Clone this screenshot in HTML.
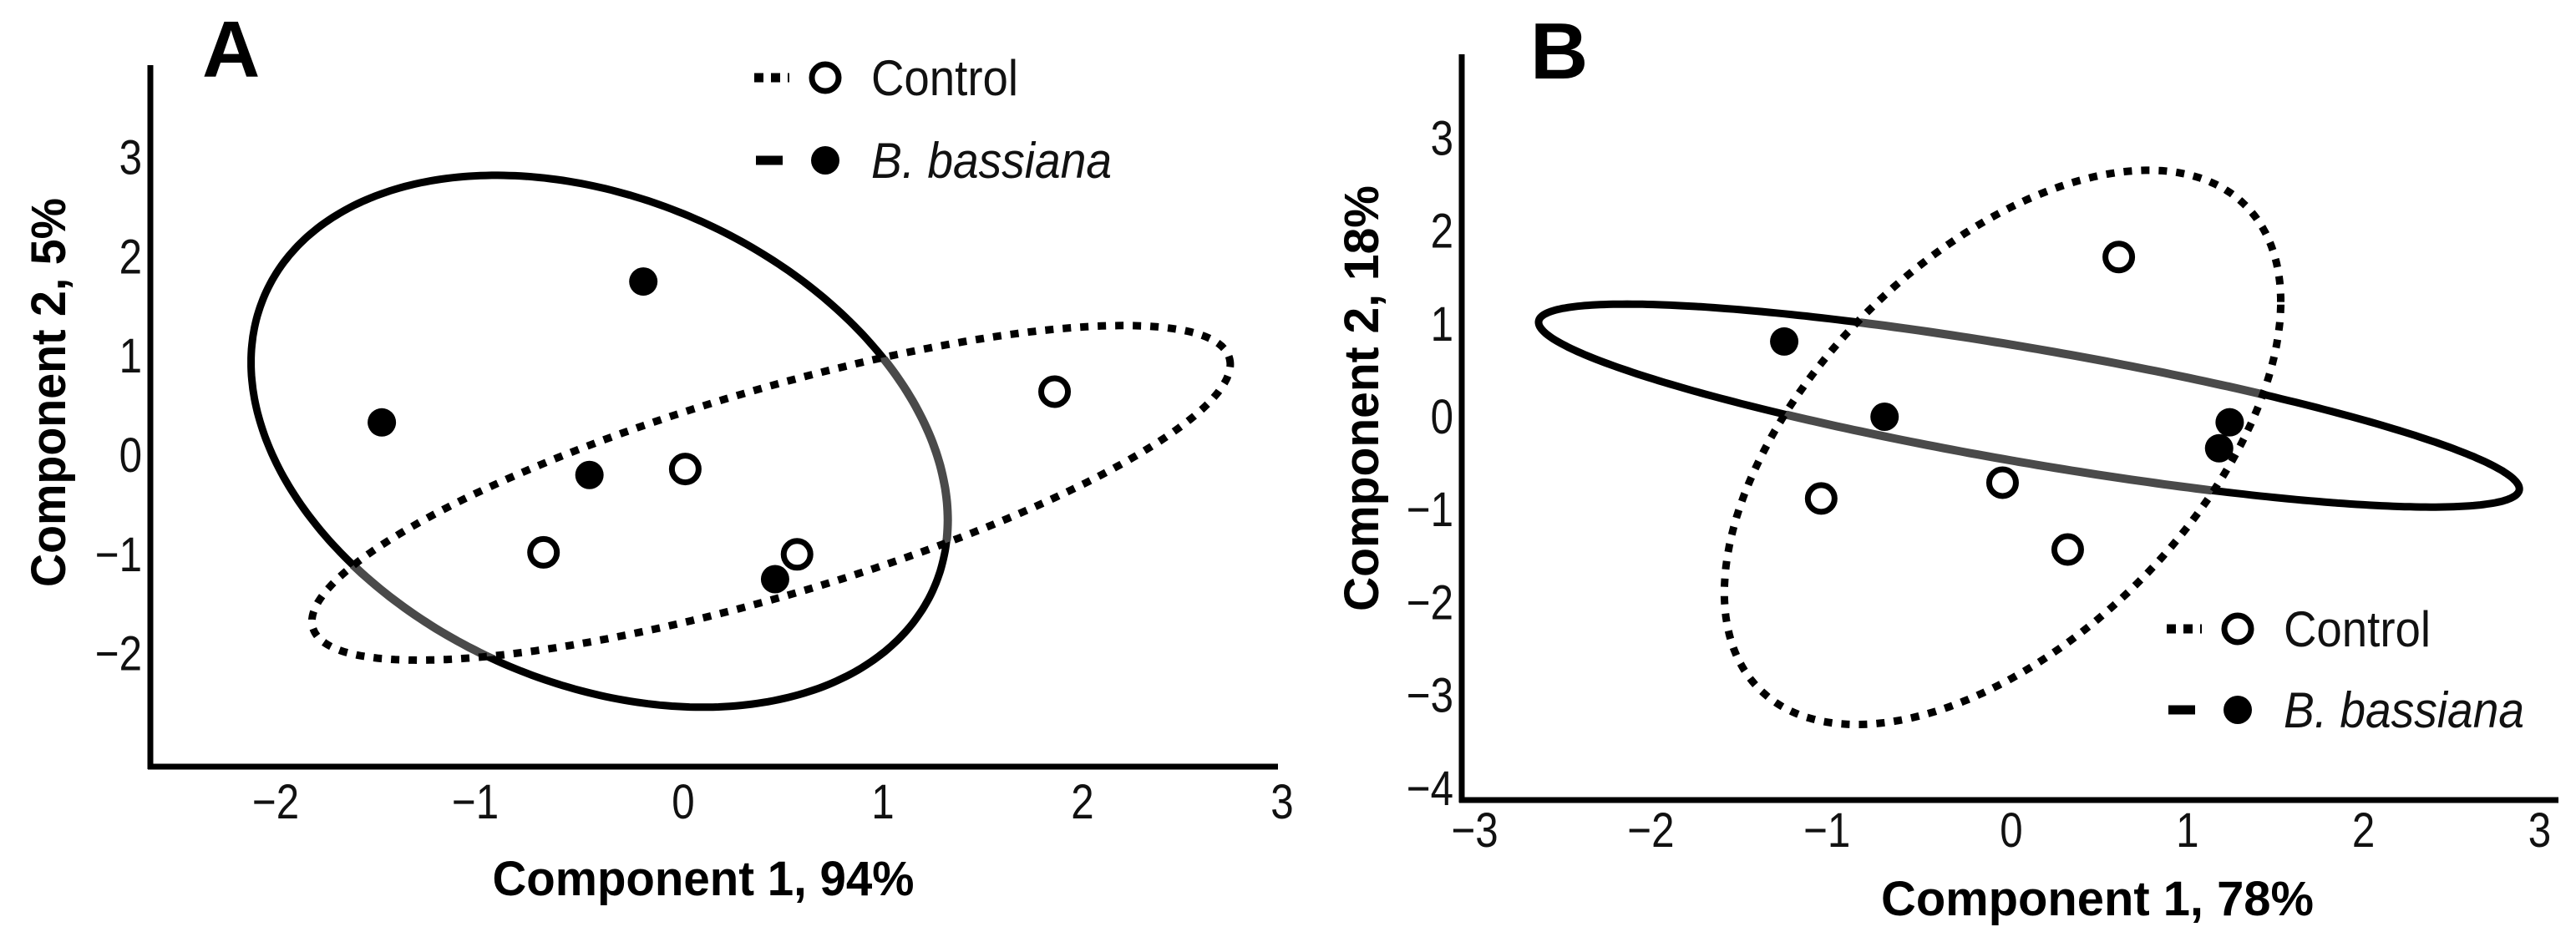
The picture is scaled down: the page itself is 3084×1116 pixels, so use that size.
<!DOCTYPE html>
<html><head><meta charset="utf-8"><style>
html,body{margin:0;padding:0;background:#fff;}
svg{display:block;font-family:"Liberation Sans",Arial,sans-serif;}
</style></head><body>
<svg id="fig" width="3084" height="1116" viewBox="0 0 3084 1116" xmlns="http://www.w3.org/2000/svg">
<defs>
<clipPath id="clipA"><path id="clipApath" d=""/></clipPath>
<clipPath id="clipB"><path id="clipBpath" d=""/></clipPath>
</defs>
<g id="panelA"></g>
<g id="panelB"></g>
</svg>
<script>
// ---------- Panel A data ----------
const aXTicks = [-2, -1, 0, 1, 2, 3];
const aYTicks = [3, 2, 1, 0, -1, -2];
const aControlX = [-0.70, 0.01, 0.57, 1.86];
const aControlY = [-0.98, -0.14, -1.00, 0.64];
const aBassX = [-1.51, -0.20, -0.47, 0.46];
const aBassY = [0.33, 1.75, -0.20, -1.25];
// ellipse: center x, center y, half-width, y offset at rightmost point, conjugate y
const aBassEllipse = [-0.42, 0.14, 1.745, -0.795, 2.56];
const aCtrlEllipse = [0.44, -0.38, 2.30, 1.295, 1.08];

// ---------- Panel B data ----------
const bXTicks = [-3, -2, -1, 0, 1, 2, 3];
const bYTicks = [3, 2, 1, 0, -1, -2, -3, -4];
const bControlX = [0.61, -1.08, -0.05, 0.32];
const bControlY = [1.72, -0.88, -0.71, -1.43];
const bBassX = [-1.29, -0.72, 1.24, 1.18];
const bBassY = [0.81, 0.00, -0.06, -0.34];
const bBassEllipse = [0.10, 0.12, 2.785, -0.897, 0.624];
const bCtrlEllipse = [-0.05, -0.33, 1.58, 1.566, 2.54];

const NS = "http://www.w3.org/2000/svg";
function mk(tag, attrs, parent, txt){
  const e = document.createElementNS(NS, tag);
  for (const k in attrs) e.setAttribute(k, attrs[k]);
  if (txt !== undefined) e.textContent = txt;
  parent.appendChild(e);
  return e;
}
function fmt(v){ return v < 0 ? "\u2212" + Math.abs(v) : String(v); }
function ellPath(E, sx, sy){
  let d = "";
  for (let i = 0; i <= 360; i++){
    const t = i * Math.PI / 180;
    const x = E[0] + E[2] * Math.cos(t);
    const y = E[1] + E[3] * Math.cos(t) + E[4] * Math.sin(t);
    d += (i ? "L" : "M") + sx(x).toFixed(1) + "," + sy(y).toFixed(1);
  }
  return d + "Z";
}

function drawPanel(cfg){
  const g = cfg.g;
  const sx = v => cfg.x0 + v * cfg.xu;
  const sy = v => cfg.y0 - v * cfg.yu;
  const ya = mk("line", {x1: cfg.axX, y1: cfg.axTop, x2: cfg.axX, y2: cfg.axY + 3, stroke: "#000", "stroke-width": 7}, g);
  
  
  const xa = mk("line", {x1: cfg.axX - 3, y1: cfg.axY, x2: cfg.axRight, y2: cfg.axY, stroke: "#000", "stroke-width": 7}, g);
  
  
  cfg.xTicks.forEach(v => {
    const t = mk("text", {x: 0, y: 0, "font-size": 58, "text-anchor": "middle", fill: "#111",
      transform: "translate(" + (sx(v) - (v < 0 ? 10 : 0)) + "," + cfg.xLabY + ") scale(0.85,1)"}, g, fmt(v));
    
    
  });
  cfg.yTicks.forEach(v => {
    const t = mk("text", {x: 0, y: 0, "font-size": 58, "text-anchor": "end", fill: "#111",
      transform: "translate(" + cfg.yLabX + "," + (sy(v) + 20) + ") scale(0.85,1)"}, g, fmt(v));
    
    
  });
  const xt = mk("text", {x: cfg.xTitleX, y: cfg.xTitleY, "font-size": 58, "font-weight": "bold", "text-anchor": "middle", textLength: cfg.xTitleLen, lengthAdjust: "spacingAndGlyphs"}, g, cfg.xTitle);
  
  
  const yt = mk("text", {x: 0, y: 0, "font-size": 58, "font-weight": "bold", "text-anchor": "middle", textLength: cfg.yTitleLen, lengthAdjust: "spacingAndGlyphs", transform: "translate(" + cfg.yTitleX + "," + cfg.yTitleY + ") rotate(-90)"}, g, cfg.yTitle);
  
  
  const pl = mk("text", {x: cfg.letterX, y: cfg.letterY, "font-size": 96, "font-weight": "bold"}, g, cfg.letter);
  
  
  const ctrlD = ellPath(cfg.ctrlE, sx, sy);
  const bassD = ellPath(cfg.bassE, sx, sy);
  document.getElementById(cfg.clipPathId).setAttribute("d", ctrlD);
  const e1 = mk("path", {d: bassD, fill: "none", stroke: "#000", "stroke-width": 9}, g);
  
  
  const e1g = mk("path", {d: bassD, fill: "none", stroke: "#4a4a4a", "stroke-width": 10, "clip-path": "url(#" + cfg.clipId + ")"}, g);
  
  
  const e2 = mk("path", {d: ctrlD, fill: "none", stroke: "#000", "stroke-width": 9, "stroke-dasharray": "10 11"}, g);
  
  
  cfg.bassX.forEach((v, i) => {
    const c = mk("circle", {cx: sx(v), cy: sy(cfg.bassY[i]), r: 17, fill: "#000"}, g);
    
    
  });
  cfg.ctrlX.forEach((v, i) => {
    const c = mk("circle", {cx: sx(v), cy: sy(cfg.ctrlY[i]), r: 16, fill: "#fff", stroke: "#000", "stroke-width": 7}, g);
    
    
  });
  const L = cfg.leg;
  const lg = mk("g", {}, g);
  
  
  const d1 = mk("line", {x1: L.x, y1: L.y1, x2: L.x + 42, y2: L.y1, stroke: "#000", "stroke-width": 11, "stroke-dasharray": "11 9"}, lg);
  
  
  const c1 = mk("circle", {cx: L.x + 85, cy: L.y1, r: 16, fill: "#fff", stroke: "#000", "stroke-width": 7}, lg);
  
  
  const t1 = mk("text", {x: L.x + 140, y: L.y1 + 21, "font-size": 60, fill: "#111", textLength: 176, lengthAdjust: "spacingAndGlyphs"}, lg, "Control");
  
  
  const d2 = mk("line", {x1: L.x + 2, y1: L.y2, x2: L.x + 34, y2: L.y2, stroke: "#000", "stroke-width": 11}, lg);
  
  
  const c2 = mk("circle", {cx: L.x + 85, cy: L.y2, r: 17, fill: "#000"}, lg);
  
  
  const t2 = mk("text", {x: L.x + 140, y: L.y2 + 21, "font-size": 60, "font-style": "italic", fill: "#111", textLength: 288, lengthAdjust: "spacingAndGlyphs"}, lg, "B. bassiana");
  
  
}

drawPanel({
  g: document.getElementById("panelA"),
  x0: 818, xu: 239, y0: 545, yu: 118.8,
  axX: 180, axTop: 78, axY: 918, axRight: 1530,
  xTicks: aXTicks, yTicks: aYTicks, xLabY: 980, yLabX: 170,
  xTitle: "Component 1, 94%", xTitleX: 842, xTitleY: 1072, xTitleLen: 505,
  yTitle: "Component 2, 5%", yTitleX: 78, yTitleY: 470, yTitleLen: 466,
  letter: "A", letterX: 242, letterY: 92,
  ctrlE: aCtrlEllipse, bassE: aBassEllipse,
  ctrlX: aControlX, ctrlY: aControlY, bassX: aBassX, bassY: aBassY,
  clipId: "clipA", clipPathId: "clipApath",
  leg: {x: 903, y1: 93, y2: 192}
});
drawPanel({
  g: document.getElementById("panelB"),
  x0: 2408, xu: 210.8, y0: 499, yu: 111.2,
  axX: 1750, axTop: 65, axY: 958, axRight: 3063,
  xTicks: bXTicks, yTicks: bYTicks, xLabY: 1014, yLabX: 1740,
  xTitle: "Component 1, 78%", xTitleX: 2511, xTitleY: 1096, xTitleLen: 518,
  yTitle: "Component 2, 18%", yTitleX: 1650, yTitleY: 477, yTitleLen: 510,
  letter: "B", letterX: 1832, letterY: 94,
  ctrlE: bCtrlEllipse, bassE: bBassEllipse,
  ctrlX: bControlX, ctrlY: bControlY, bassX: bBassX, bassY: bBassY,
  clipId: "clipB", clipPathId: "clipBpath",
  leg: {x: 2594, y1: 753, y2: 850}
});
</script>
</body></html>
